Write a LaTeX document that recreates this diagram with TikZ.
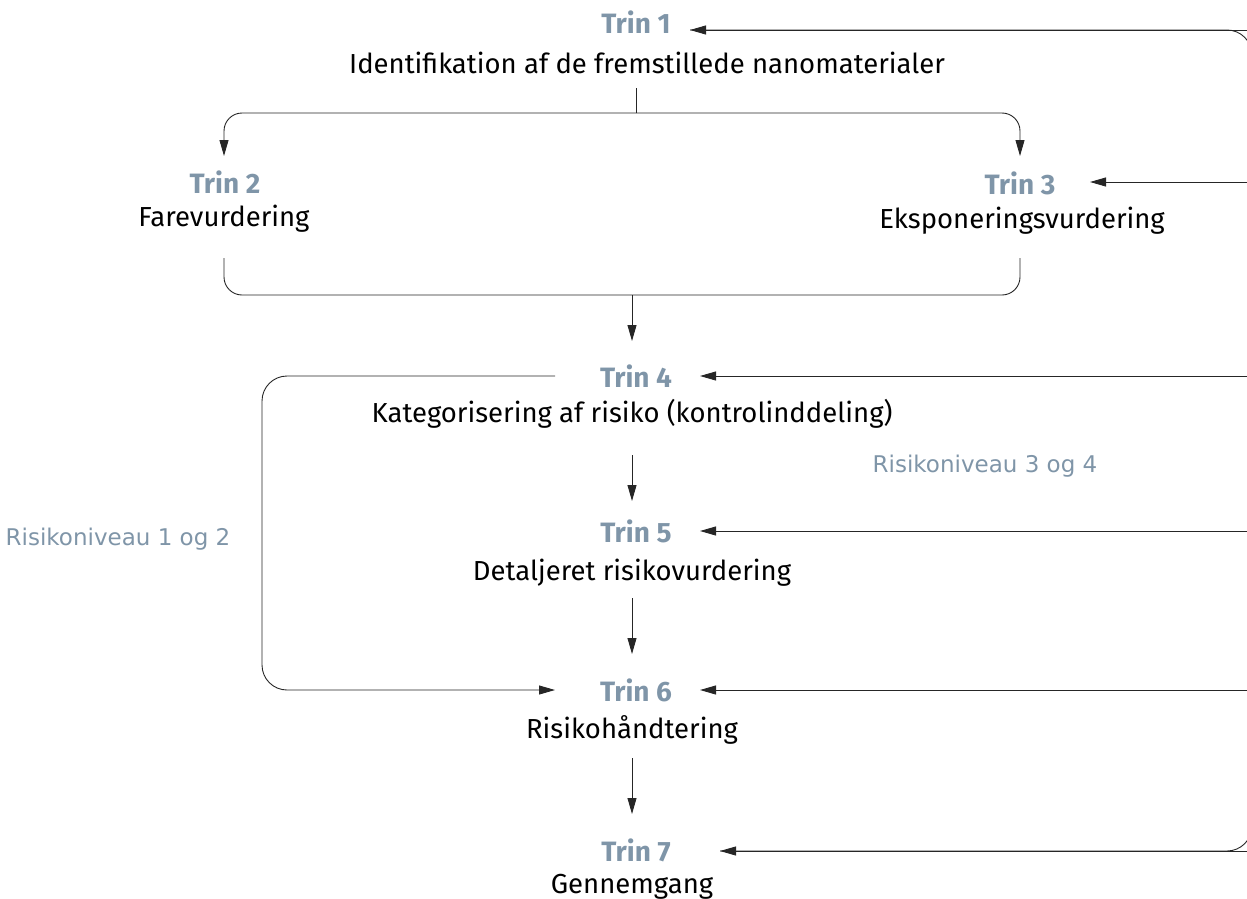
\documentclass[tikz,border=0pt]{standalone}
\usepackage{fontspec}
\setmainfont{Fira Sans}
\newfontfamily\lvlfont{DejaVu Sans}
\usetikzlibrary{arrows.meta}
\definecolor{trin}{RGB}{127,149,168}
\tikzset{
  trinlbl/.style={font=\fontsize{28}{32}\selectfont\bfseries, text=trin, inner sep=0pt, anchor=center},
  body/.style={font=\fontsize{27.5}{32}\selectfont, text=black, inner sep=0pt, anchor=center},
  lvl/.style={font=\lvlfont\fontsize{23}{26}\selectfont, text=trin, inner sep=0pt, anchor=center},
  conn/.style={line width=0.9pt, draw=black!85, -{Triangle[length=16pt,width=9pt]}},
  link/.style={line width=0.9pt, draw=black!85},
}
\begin{document}
\begin{tikzpicture}[x=1pt,y=-1pt]
\useasboundingbox (0,0) rectangle (1247,899);
% labels
\node[trinlbl] (t1) at (636,22) {Trin 1};
\node[body] (b1) at (647,63) {Identifikation af de fremstillede nanomaterialer};
\node[trinlbl] (t2) at (225,182) {Trin 2};
\node[body] (b2) at (224,219) {Farevurdering};
\node[trinlbl] (t3) at (1020,183) {Trin 3};
\node[body] (b3) at (1022,221) {Eksponeringsvurdering};
\node[trinlbl] (t4) at (636,376) {Trin 4};
\node[body] (b4) at (632,414) {Kategorisering af risiko (kontrolinddeling)};
\node[trinlbl] (t5) at (636,531) {Trin 5};
\node[body] (b5) at (632,573) {Detaljeret risikovurdering};
\node[trinlbl] (t6) at (636,690) {Trin 6};
\node[body] (b6) at (632,730) {Risikohåndtering};
\node[trinlbl] (t7) at (636,850) {Trin 7};
\node[body] (b7) at (632,887) {Gennemgang};
\node[lvl] (l34) at (985,466) {Risikoniveau 3 og 4};
\node[lvl] (l12) at (118,539) {Risikoniveau 1 og 2};
% coordinates
\coordinate (s1) at (636,88);
\coordinate (j1) at (636,113);
\coordinate (a2) at (224,156);
\coordinate (a3) at (1020,156);
\coordinate (u2) at (224,258);
\coordinate (u3) at (1020,258);
\coordinate (j2) at (632,295);
\coordinate (a4) at (632,341);
\coordinate (s45) at (632,455);
\coordinate (a5) at (632,501);
\coordinate (s56) at (632,598);
\coordinate (a6) at (632,654);
\coordinate (s67) at (632,758);
\coordinate (a7) at (632,814);
\coordinate (ls) at (555,376);
\coordinate (le) at (555,690);
\coordinate (rtop) at (1252,30);
\coordinate (rbot) at (1252,851);
% top split
\draw[link] (s1) -- (j1);
\draw[conn, rounded corners=18pt] (j1) -| (a2);
\draw[conn, rounded corners=18pt] (j1) -| (a3);
% merge
\draw[link, rounded corners=18pt] (u2) |- (j2) -| (u3);
\draw[conn] (j2) -- (a4);
% vertical chain
\draw[conn] (s45) -- (a5);
\draw[conn] (s56) -- (a6);
\draw[conn] (s67) -- (a7);
% left loop
\draw[conn, rounded corners=25pt] (ls) -- (262,376) -- (262,690) -- (le);
% right feedback
\draw[link, rounded corners=25pt] (690,30) -- (rtop) -- (rbot) -- (720,851);
\draw[conn] (1252,30) -- (690,30);
\draw[conn] (1252,182) -- (1090,182);
\draw[conn] (1252,376) -- (700,376);
\draw[conn] (1252,531) -- (700,531);
\draw[conn] (1252,690) -- (700,690);
\draw[conn] (1252,851) -- (720,851);
\end{tikzpicture}
\end{document}
